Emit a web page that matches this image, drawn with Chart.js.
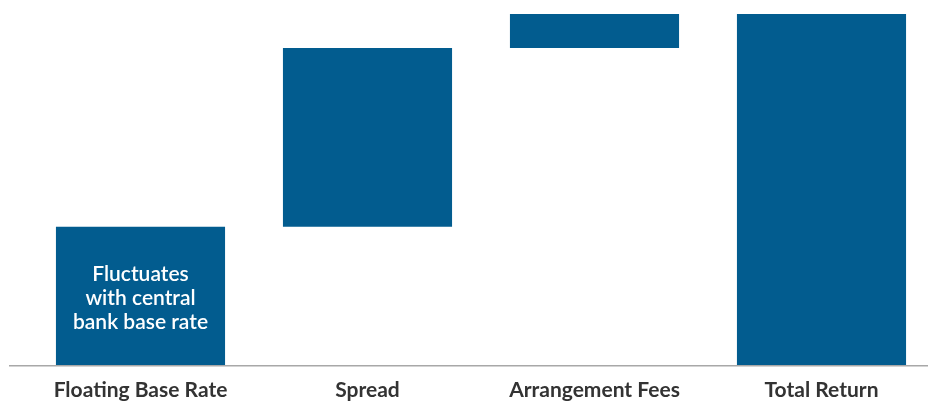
<!DOCTYPE html>
<html>
<head>
<meta charset="utf-8">
<script src="https://cdn.jsdelivr.net/npm/chart.js@4/dist/chart.umd.min.js"></script>
<style>
  html, body { margin: 0; padding: 0; background: #fff; overflow: hidden; }
  #wrap { width: 935px; height: 401px; }
</style>
</head>
<body>
<div id="wrap"><canvas id="graficoRetorno"></canvas></div>
<script>
// Dados do gráfico (cascata)
const categorias = ['Floating Base Rate', 'Spread', 'Arrangement Fees', 'Total Return'];
const incrementos = [3.95, 5.08, 1.0];
const totalRetorno = 10.0;
const textoBarra = ['Fluctuates', 'with central', 'bank base rate'];

// monta as barras flutuantes a partir dos incrementos
const barras = [];
let acumulado = 0;
incrementos.forEach(v => {
    barras.push([acumulado, acumulado + v]);
    acumulado += v;
});
barras.push([0, totalRetorno]);

const corBarra = '#025C8F';

// plugin: linha de base e texto dentro da primeira barra
const extras = {
    id: 'extras',
    afterDatasetsDraw(chart) {
        const ctx = chart.ctx;
        const y0 = chart.scales.y.getPixelForValue(0);
        ctx.save();
        ctx.strokeStyle = '#a8a8a8';
        ctx.lineWidth = 1.5;
        ctx.beginPath();
        ctx.moveTo(9, y0);
        ctx.lineTo(chart.width, y0);
        ctx.stroke();

        const barra = chart.getDatasetMeta(0).data[0];
        ctx.fillStyle = '#ffffff';
        ctx.font = '600 21px Lato';
        ctx.textAlign = 'center';
        ctx.textBaseline = 'middle';
        const meio = (barra.y + barra.base) / 2 + 1.5;
        textoBarra.forEach((linha, i) => {
            ctx.fillText(linha, barra.x, meio + (i - 1) * 24);
        });
        ctx.restore();
    }
};

new Chart(document.getElementById('graficoRetorno'), {
    type: 'bar',
    data: {
        labels: categorias,
        datasets: [{
            data: barras,
            backgroundColor: corBarra,
            borderWidth: 0,
            borderSkipped: false,
            barPercentage: 0.745,
            categoryPercentage: 1.0
        }]
    },
    options: {
        responsive: true,
        maintainAspectRatio: false,
        animation: false,
        layout: { padding: { left: 27, right: 0, top: 14, bottom: -14 } },
        plugins: { legend: { display: false }, tooltip: { enabled: false } },
        scales: {
            x: {
                grid: { display: false, drawTicks: false },
                border: { display: false },
                ticks: {
                    padding: 12,
                    color: '#333333',
                    font: { family: 'Lato', size: 21, weight: 'bold' },
                    maxRotation: 0
                }
            },
            y: {
                display: false,
                min: 0,
                max: totalRetorno
            }
        }
    },
    plugins: [extras]
});
</script>
</body>
</html>
